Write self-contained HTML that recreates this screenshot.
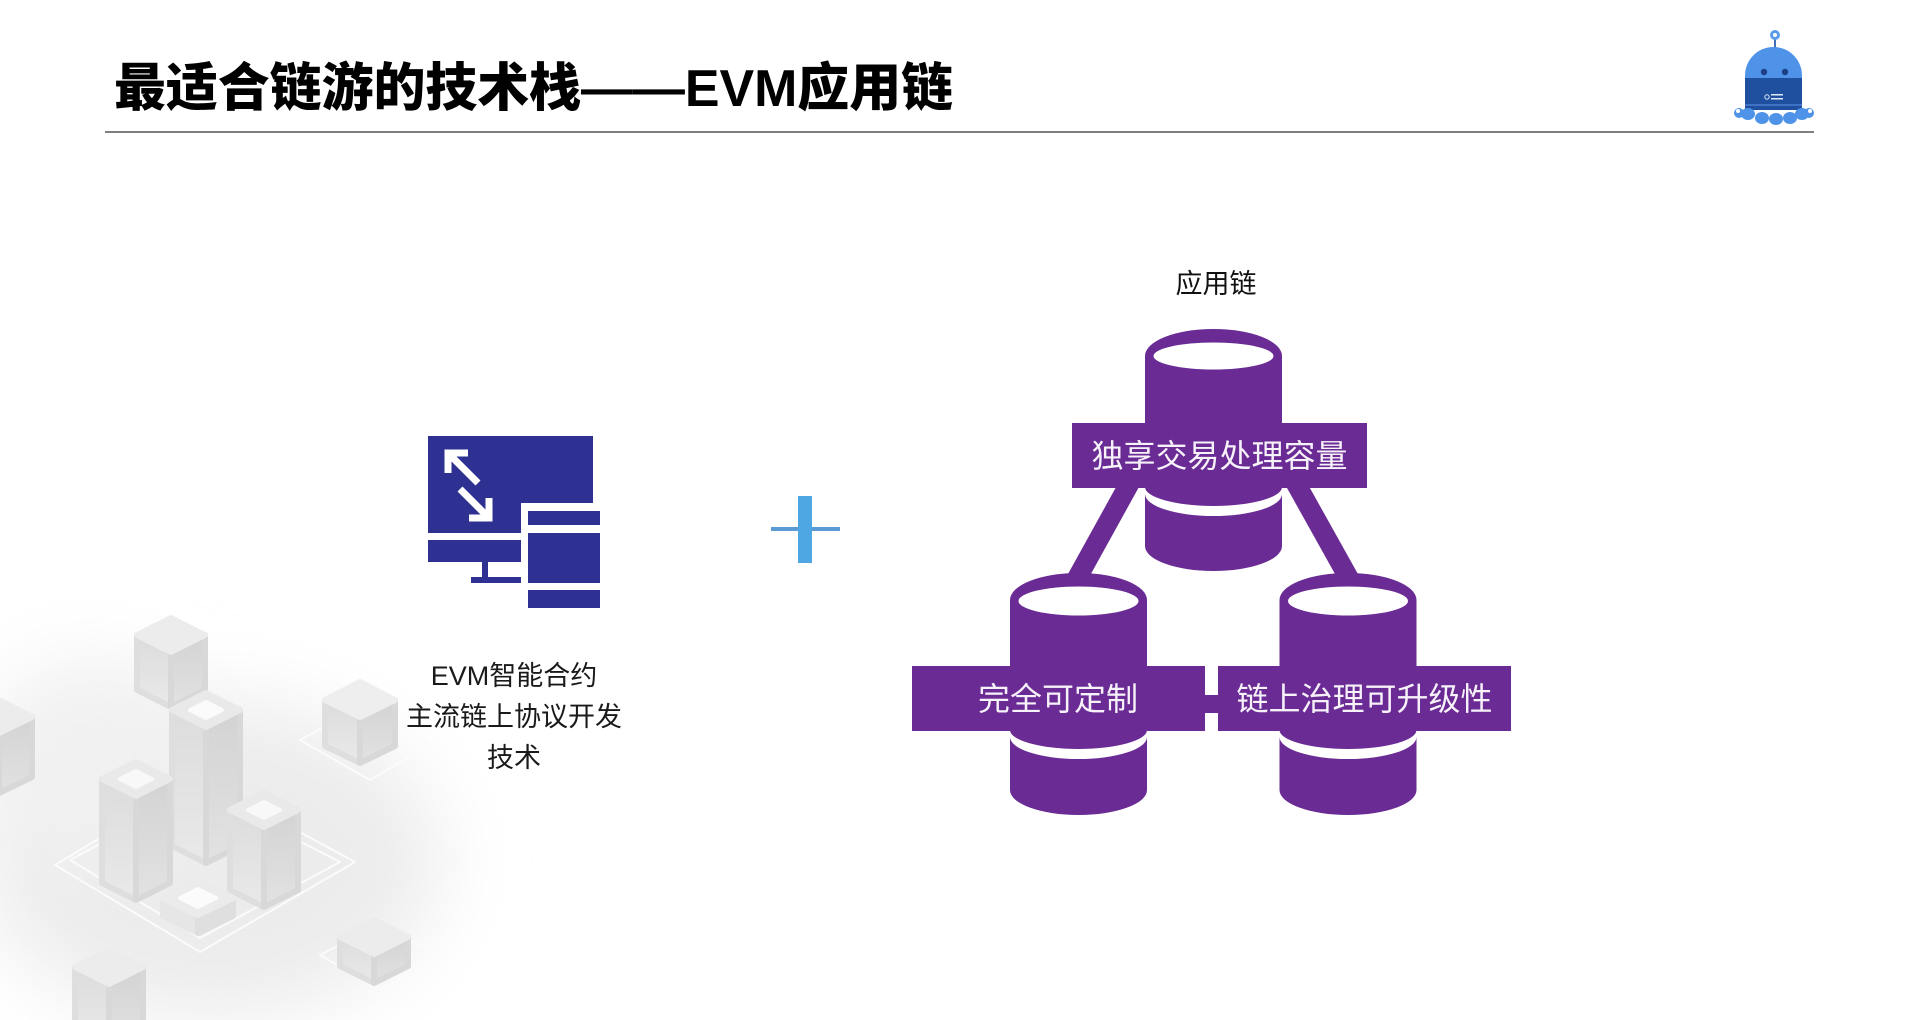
<!DOCTYPE html>
<html><head><meta charset="utf-8"><style>
html,body{margin:0;padding:0;background:#fff;}
body{width:1920px;height:1020px;overflow:hidden;position:relative;}
svg{position:absolute;left:0;top:0;}
.t{font-family:"Liberation Sans","Noto Sans CJK SC",sans-serif;}
</style></head><body>
<svg width="1920" height="1020" viewBox="0 0 1920 1020" xmlns="http://www.w3.org/2000/svg">
<defs>
<filter id="blur" x="-50%" y="-50%" width="200%" height="200%"><feGaussianBlur stdDeviation="40"/></filter>
<linearGradient id="lf" x1="0" y1="0" x2="0" y2="1"><stop offset="0" stop-color="#dcdcdc"/><stop offset="1" stop-color="#e9e9e9"/></linearGradient>
<linearGradient id="rf" x1="0" y1="0" x2="0" y2="1"><stop offset="0" stop-color="#d3d3d3"/><stop offset="1" stop-color="#e2e2e2"/></linearGradient>
</defs>

<!-- fog -->
<ellipse cx="210" cy="860" rx="230" ry="160" fill="#ececec" filter="url(#blur)"/>
<ellipse cx="90" cy="760" rx="110" ry="100" fill="#f1f1f1" filter="url(#blur)"/>
<!-- white circuit outlines -->
<g fill="none" stroke="#fbfbfb" stroke-width="2" stroke-linejoin="round">
<path d="M70,860 L200,790 L340,862 L200,938 Z"/>
<path d="M55,865 L200,778 L355,862 L200,952 Z"/>
<path d="M300,740 L360,708 L430,745 L370,780 Z"/>
<path d="M320,955 L380,925 L440,955 L380,990 Z"/>
</g>

<!-- iso boxes -->
<g stroke-linejoin="round" stroke-width="6">
<g><polygon points="137,635 171,652 171,707 137,690" fill="url(#lf)" stroke="#dedede"/><polygon points="205,635 171,652 171,707 205,690" fill="url(#rf)" stroke="#d8d8d8"/><polygon points="171,618 205,635 171,652 137,635" fill="#ececec" stroke="#ececec"/></g>
<g><polygon points="325,700 360,717 360,763 325,746" fill="url(#lf)" stroke="#dedede"/><polygon points="395,700 360,717 360,763 395,746" fill="url(#rf)" stroke="#d8d8d8"/><polygon points="360,682 395,700 360,717 325,700" fill="#eeeeee" stroke="#eeeeee"/></g>
<g><polygon points="-34,717 -1,733 -1,793 -34,777" fill="url(#lf)" stroke="#dedede"/><polygon points="32,717 -1,733 -1,793 32,777" fill="url(#rf)" stroke="#d8d8d8"/><polygon points="-1,700 32,717 -1,733 -34,717" fill="#ececec" stroke="#ececec"/></g>
<g><polygon points="172,710 206,727 206,863 172,846" fill="url(#lf)" stroke="#dedede"/><polygon points="240,710 206,727 206,863 240,846" fill="url(#rf)" stroke="#d8d8d8"/><polygon points="206,693 240,710 206,727 172,710" fill="#e9e9e9" stroke="#e9e9e9"/><polygon points="206,702 222,710 206,718 190,710" fill="#fbfbfb" stroke="#fbfbfb" stroke-width="4"/></g>
<g><polygon points="102,779 136,796 136,900 102,883" fill="url(#lf)" stroke="#dedede"/><polygon points="170,779 136,796 136,900 170,883" fill="url(#rf)" stroke="#d8d8d8"/><polygon points="136,762 170,779 136,796 102,779" fill="#e9e9e9" stroke="#e9e9e9"/><polygon points="136,771 152,779 136,787 120,779" fill="#f8f8f8" stroke="#f8f8f8" stroke-width="4"/></g>
<g><polygon points="230,810 264,827 264,907 230,890" fill="url(#lf)" stroke="#dedede"/><polygon points="298,810 264,827 264,907 298,890" fill="url(#rf)" stroke="#d8d8d8"/><polygon points="264,793 298,810 264,827 230,810" fill="#e9e9e9" stroke="#e9e9e9"/><polygon points="264,802 280,810 264,818 248,810" fill="#f8f8f8" stroke="#f8f8f8" stroke-width="4"/></g>
<g><polygon points="163,898 198,915 198,933 163,916" fill="#e6e6e6" stroke="#e6e6e6"/><polygon points="233,898 198,915 198,933 233,916" fill="#dfdfdf" stroke="#dfdfdf"/><polygon points="198,880 233,898 198,915 163,898" fill="#ebebeb" stroke="#ebebeb"/><polygon points="198,889 216,898 198,907 180,898" fill="#fbfbfb" stroke="#fbfbfb" stroke-width="4"/></g>
<g><polygon points="340,937 374,954 374,983 340,966" fill="url(#lf)" stroke="#dedede"/><polygon points="408,937 374,954 374,983 408,966" fill="url(#rf)" stroke="#d8d8d8"/><polygon points="374,920 408,937 374,954 340,937" fill="#ececec" stroke="#ececec"/></g>
<g><polygon points="75,967 109,984 109,1044 75,1027" fill="url(#lf)" stroke="#dedede"/><polygon points="143,967 109,984 109,1044 143,1027" fill="url(#rf)" stroke="#d8d8d8"/><polygon points="109,950 143,967 109,984 75,967" fill="#ececec" stroke="#ececec"/></g>
</g>

<!-- title -->
<text x="114" y="89" dominant-baseline="central" class="t" font-size="52" font-weight="900" fill="#000" textLength="839" lengthAdjust="spacingAndGlyphs">最适合链游的技术栈——EVM应用链</text>
<line x1="105" y1="132" x2="1814" y2="132" stroke="#7f7f7f" stroke-width="2"/>

<!-- mascot -->
<g>
<line x1="1775" y1="39" x2="1775" y2="49" stroke="#3f6fb8" stroke-width="2"/>
<circle cx="1775" cy="35" r="5" fill="#5a9be8"/>
<circle cx="1775" cy="35" r="2" fill="#fff"/>
<path d="M1745,80 V75.5 A28.5,28.5 0 0 1 1802,75.5 V80 Z" fill="#4f93e8"/>
<circle cx="1764" cy="72" r="3.2" fill="#1d3f86"/>
<circle cx="1785" cy="72" r="3.2" fill="#1d3f86"/>
<rect x="1745" y="78" width="57" height="32" fill="#1f4f9f"/>
<rect x="1745" y="104" width="57" height="2" fill="#3f72c4"/>
<circle cx="1767" cy="97" r="2.2" fill="none" stroke="#dfe8f7" stroke-width="1"/>
<rect x="1771" y="94" width="12" height="1.5" fill="#dfe8f7"/>
<rect x="1771" y="98" width="12" height="1.5" fill="#dfe8f7"/>
<g fill="#4f93e8">
<ellipse cx="1748" cy="114" rx="7" ry="6"/><ellipse cx="1762" cy="118" rx="7" ry="6"/><ellipse cx="1776" cy="119" rx="7" ry="6"/><ellipse cx="1790" cy="118" rx="7" ry="6"/><ellipse cx="1802" cy="114" rx="7" ry="6"/>
<circle cx="1739" cy="113" r="5"/><circle cx="1809" cy="113" r="5"/>
</g>
<circle cx="1738" cy="111" r="2" fill="#fff"/>
<circle cx="1810" cy="111" r="2" fill="#fff"/>
</g>

<!-- EVM icon -->
<g fill="#2e3192">
<path d="M428,436 H593 V503 H521 V533 H428 Z"/>
<rect x="428" y="540" width="93" height="22"/>
<rect x="482" y="561" width="6" height="17"/>
<rect x="471" y="577" width="50" height="6"/>
<rect x="528" y="511" width="72" height="14"/>
<rect x="528" y="533" width="72" height="50"/>
<rect x="528" y="590" width="72" height="18"/>
</g>
<g fill="none" stroke="#fff" stroke-width="7" stroke-linecap="butt" stroke-linejoin="miter">
<path d="M468,453 H448 V473"/>
<line x1="449" y1="454" x2="478" y2="483"/>
<path d="M469,518 H489 V498"/>
<line x1="460" y1="489" x2="488" y2="517"/>
</g>
<g class="t" font-size="27" fill="#1a1a1a" text-anchor="middle" dominant-baseline="central">
<text x="514" y="676">EVM智能合约</text>
<text x="514" y="717">主流链上协议开发</text>
<text x="514" y="758">技术</text>
</g>

<!-- plus -->
<rect x="771" y="527" width="69" height="4" fill="#5b9bd5"/>
<rect x="798" y="496" width="14" height="67" fill="#4ea6e3"/>

<!-- app chain -->
<text x="1216" y="284" class="t" font-size="27" fill="#111" text-anchor="middle" dominant-baseline="central">应用链</text>

<g stroke="#6a2b94" stroke-width="20" stroke-linecap="butt">
<line x1="1131.4" y1="480" x2="1071.7" y2="588"/>
<line x1="1294" y1="480" x2="1354.3" y2="588"/>
</g>

<g>
<path d="M1145,356 A68.5,27 0 0 1 1282,356 L1282,546 A68.5,25 0 0 1 1145,546 Z" fill="#6a2b94"/>
<ellipse cx="1213.5" cy="356" rx="60" ry="13.5" fill="#fff"/>
<rect x="1072" y="423" width="295" height="65" fill="#6a2b94"/>
<path d="M1145,487 A68.5,19 0 0 0 1282,487 L1282,494 A68.5,22 0 0 1 1145,494 Z" fill="#fff"/>
</g>
<g>
<path d="M1010,600 A68.5,27 0 0 1 1147,600 L1147,790 A68.5,25 0 0 1 1010,790 Z" fill="#6a2b94"/>
<ellipse cx="1078.5" cy="601" rx="60" ry="14.5" fill="#fff"/>
<rect x="912" y="666" width="293" height="65" fill="#6a2b94"/>
<path d="M1010,730 A68.5,19 0 0 0 1147,730 L1147,737 A68.5,22 0 0 1 1010,737 Z" fill="#fff"/>
</g>
<g>
<path d="M1279.5,600 A68.5,27 0 0 1 1416.5,600 L1416.5,790 A68.5,25 0 0 1 1279.5,790 Z" fill="#6a2b94"/>
<ellipse cx="1348" cy="601" rx="60" ry="14.5" fill="#fff"/>
<rect x="1218" y="666" width="293" height="65" fill="#6a2b94"/>
<path d="M1279.5,730 A68.5,19 0 0 0 1416.5,730 L1416.5,737 A68.5,22 0 0 1 1279.5,737 Z" fill="#fff"/>
</g>
<rect x="1204" y="695" width="15" height="18" fill="#6a2b94"/>

<g class="t" font-size="32" fill="#f7f2fa" text-anchor="middle" dominant-baseline="central">
<text x="1219.5" y="456">独享交易处理容量</text>
<text x="1058" y="699">完全可定制</text>
<text x="1364.5" y="699">链上治理可升级性</text>
</g>
</svg>
</body></html>
